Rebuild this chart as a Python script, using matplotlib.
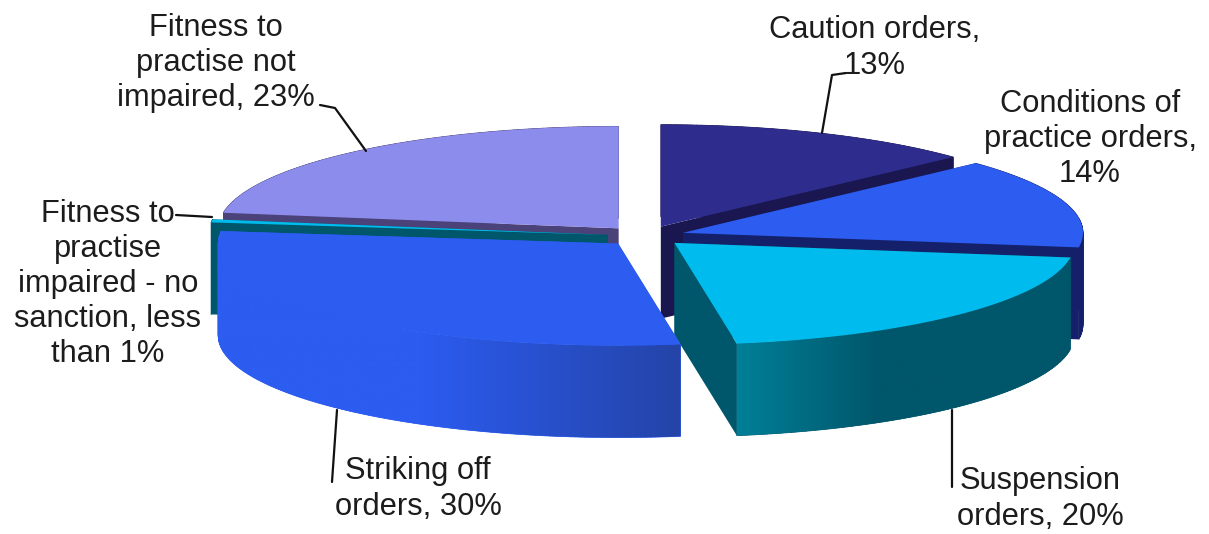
import numpy as np
import matplotlib
matplotlib.use("Agg")
import matplotlib.pyplot as plt
from matplotlib.collections import PolyCollection
from matplotlib.colors import to_rgb
from matplotlib.patches import Polygon

# Outcome shares, clockwise from twelve o'clock
categories = ["Caution orders", "Conditions of practice orders", "Suspension orders",
              "Striking off orders", "Fitness to practise impaired - no sanction",
              "Fitness to practise not impaired"]
values = [13, 14, 20, 30, 0.5, 23]
label_texts = ["Caution orders,\n13%", "Conditions of\npractice orders,\n14%",
               "Suspension\norders, 20%", "Striking off\norders, 30%",
               "Fitness to\npractise\nimpaired - no\nsanction, less\nthan 1%",
               "Fitness to\npractise not\nimpaired, 23%"]

# Face colours per slice
top_colors = ["#2e2d8e", "#2c5cf0", "#00bcee", "#2c5cf0", "#00bcee", "#8c8cec"]
side_colors = ["#1a1650", "#14206a", "#00566a", "#2c5cf0", "#00566a", "#4a4278"]
wall_stops = [None, None, [(735, "#008099"), (880, "#00566a")],
              [(420, "#2c5cf0"), (678, "#2444a8")], None, None]
explode = [0.10, 0.10, 0.10, 0.10, 0.093, 0.10]

# Projection of the tilted disc, in figure pixels
CX, CY, RX, RY, DEPTH = 645, 236, 400, 102, 92
FRONT_WARP = np.radians(2.7)  # perspective pushes rim points towards the back
PAINT_ORDER = [5, 0, 1, 4, 2, 3]

# Label anchors and leader-line routes, in figure pixels
label_pos = [(875, 48), (1090, 139), (1040, 499), (418, 489), (108, 284), (216, 63)]
leaders = [[(846, 73), (832, 75), (822, 133)],
           [],
           [(952, 410), (952, 487)],
           [(337, 410), (332, 482)],
           [(176, 215), (212, 217)],
           [(320, 105), (335, 108), (366, 151)]]

fig = plt.figure(figsize=(12.09, 5.34), dpi=100, facecolor="white")
ax = fig.add_axes([0, 0, 1, 1])
ax.axis("off")


def warp(theta):
    return theta + FRONT_WARP * (1 - np.cos(theta)) / 2


def rim_strips(xs, ys, color, z):
    """Extrude the arc downwards as quads, so the silhouette stays filled past the extremes."""
    quads = [[(xs[j], ys[j]), (xs[j + 1], ys[j + 1]),
              (xs[j + 1], ys[j + 1] + DEPTH), (xs[j], ys[j] + DEPTH)]
             for j in range(len(xs) - 1)]
    ax.add_collection(PolyCollection(quads, facecolors=color, edgecolors=color,
                                     linewidths=0.5, zorder=z))


def gradient_wall(poly_xy, stops, z):
    """Fill a polygon with a left-to-right colour ramp."""
    xs = np.arange(np.floor(poly_xy[:, 0].min()), np.ceil(poly_xy[:, 0].max()) + 1)
    stop_x = [s[0] for s in stops]
    rgb = np.array([to_rgb(s[1]) for s in stops])
    ramp = np.stack([np.interp(xs, stop_x, rgb[:, c]) for c in range(3)], axis=-1)[None, :, :]
    im = ax.imshow(ramp, extent=(xs[0], xs[-1], poly_xy[:, 1].max(), poly_xy[:, 1].min()),
                   aspect="auto", interpolation="bilinear", zorder=z)
    im.set_clip_path(Polygon(poly_xy, closed=True, transform=ax.transData))


shares = np.array(values, dtype=float)
edges = np.concatenate([[0], np.cumsum(shares)]) / shares.sum() * 2 * np.pi

for z, i in enumerate(PAINT_ORDER):
    a0, a1 = warp(edges[i]), warp(edges[i + 1])
    mid = (edges[i] + edges[i + 1]) / 2
    ax0 = CX + RX * explode[i] * np.sin(mid)
    ay0 = CY - RY * explode[i] * np.cos(mid)
    th = np.linspace(a0, a1, max(6, int((a1 - a0) * 80)))
    xs = ax0 + RX * np.sin(th)
    ys = ay0 - RY * np.cos(th)
    base = z * 10

    # Radial cut faces
    for x_e, y_e in ((xs[0], ys[0]), (xs[-1], ys[-1])):
        ax.add_patch(Polygon([(ax0, ay0), (x_e, y_e), (x_e, y_e + DEPTH), (ax0, ay0 + DEPTH)],
                             closed=True, fc=side_colors[i], ec="none", zorder=base))
    # Outer rim
    rim_strips(xs, ys, side_colors[i], base + 0.5)
    if wall_stops[i] is not None:
        rim = np.column_stack([np.r_[xs, xs[::-1]], np.r_[ys, ys[::-1] + DEPTH]])
        gradient_wall(rim, wall_stops[i], base + 1)
    # Top face
    ax.add_patch(Polygon(np.column_stack([np.r_[ax0, xs], np.r_[ay0, ys]]),
                         closed=True, fc=top_colors[i], ec="none", zorder=base + 2))

for route in leaders:
    if route:
        px, py = zip(*route)
        ax.plot(px, py, color="#111111", lw=1.6, zorder=200, solid_capstyle="round")

for text, (x, y) in zip(label_texts, label_pos):
    ax.text(x, y, text, ha="center", va="center", fontsize=22.2, color="#1c1c1c",
            family="Liberation Sans", linespacing=1.22, zorder=210)

ax.set_xlim(0, 1209)
ax.set_ylim(534, 0)
fig.savefig("out.png", dpi=100, facecolor="white")
